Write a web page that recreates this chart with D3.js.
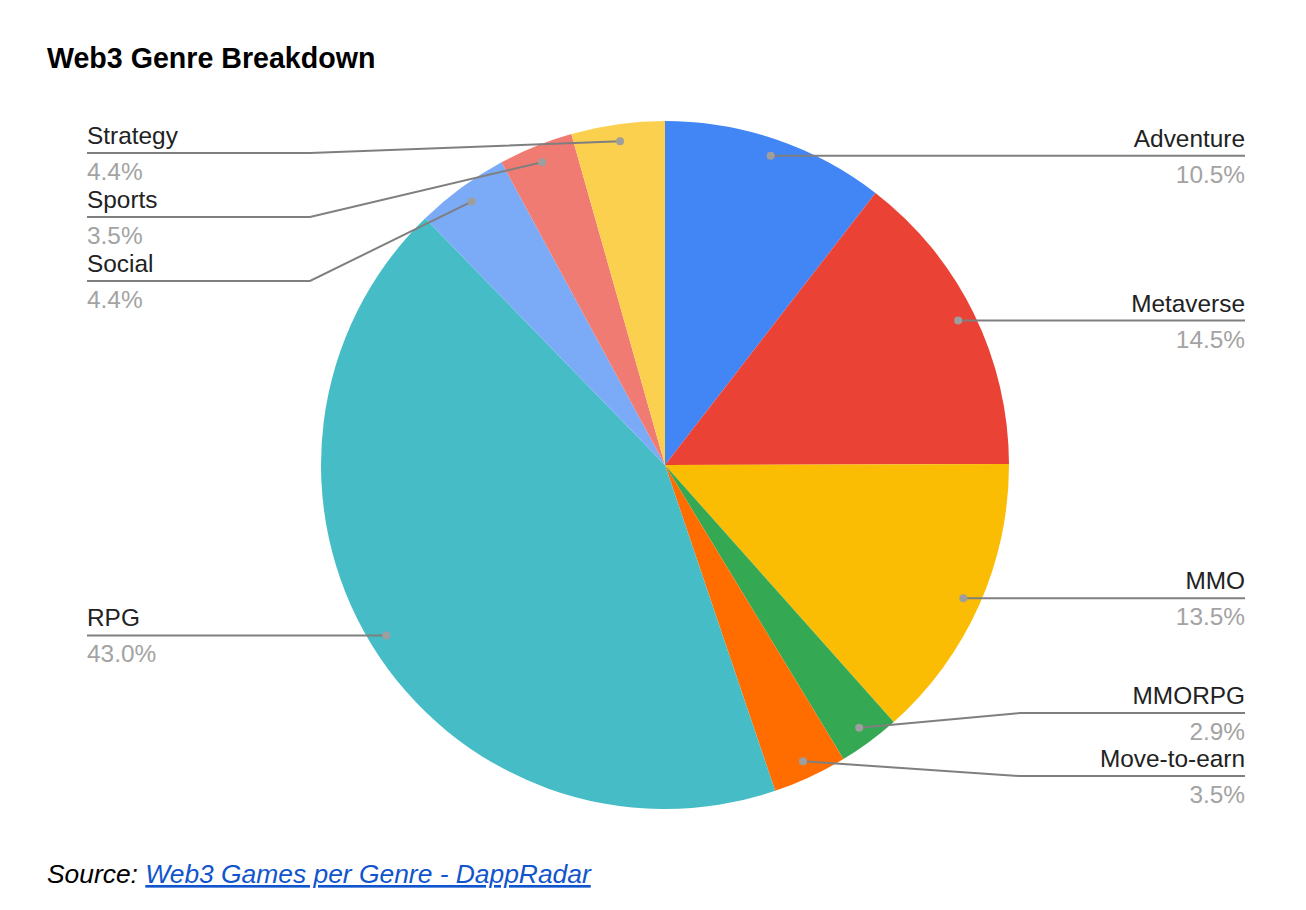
<!DOCTYPE html>
<html>
<head>
<meta charset="utf-8">
<script src="https://cdn.jsdelivr.net/npm/d3@7"></script>
<style>
  html, body { margin: 0; padding: 0; background: #fff; }
  svg { display: block; }
</style>
</head>
<body>
<svg id="chart" width="1306" height="910"></svg>
<script>
const categories = ["Adventure", "Metaverse", "MMO", "MMORPG", "Move-to-earn", "RPG", "Social", "Sports", "Strategy"];
const values = [10.5, 14.5, 13.5, 2.9, 3.5, 43.0, 4.4, 3.5, 4.4];
const colors = ["#4285F4", "#EA4335", "#FBBC04", "#34A853", "#FF6D01", "#46BDC6", "#7BAAF7", "#F07B72", "#FCD04F"];
const title = "Web3 Genre Breakdown";
const sourcePrefix = "Source: ";
const sourceLink = "Web3 Games per Genre - DappRadar";

const svg = d3.select("#chart");
const W = 1306, H = 910;
const cx = 665, cy = 465, R = 344;
const dotR = R * 0.95;
const font = "'Liberation Sans', Arial, Helvetica, sans-serif";

svg.append("rect").attr("width", W).attr("height", H).attr("fill", "#fff");

svg.append("text")
  .attr("x", 47).attr("y", 68)
  .attr("font-family", font).attr("font-size", 28.6).attr("font-weight", "bold")
  .attr("fill", "#000").text(title);

const data = categories.map((c, i) => ({ name: c, value: values[i], color: colors[i] }));
const pie = d3.pie().sort(null).value(d => d.value).startAngle(0).endAngle(2 * Math.PI);
const arcs = pie(data);
const arc = d3.arc().innerRadius(0).outerRadius(R);

const g = svg.append("g").attr("transform", `translate(${cx},${cy})`);
g.selectAll("path.slice").data(arcs).enter().append("path")
  .attr("class", "slice")
  .attr("d", arc)
  .attr("fill", d => d.data.color);

// Label layout
const items = arcs.map(a => {
  const m = (a.startAngle + a.endAngle) / 2;
  const dx = cx + dotR * Math.sin(m);
  const dy = cy - dotR * Math.cos(m);
  return { a, name: a.data.name, value: a.data.value, m, dx, dy, side: m > Math.PI ? "left" : "right", y: dy };
});

function layout(list, gap, minY, maxY) {
  list.sort((p, q) => p.dy - q.dy);
  let clusters = list.map(d => ({ items: [d] }));
  const place = c => {
    const n = c.items.length;
    const mean = d3.mean(c.items, d => d.dy);
    let top = mean - (n - 1) * gap / 2;
    top = Math.max(minY, Math.min(maxY - (n - 1) * gap, top));
    c.top = top; c.bottom = top + (n - 1) * gap;
  };
  clusters.forEach(place);
  let merged = true;
  while (merged) {
    merged = false;
    for (let i = 1; i < clusters.length; i++) {
      if (clusters[i].top - clusters[i - 1].bottom < gap) {
        const c = { items: clusters[i - 1].items.concat(clusters[i].items) };
        place(c);
        clusters.splice(i - 1, 2, c);
        merged = true;
        break;
      }
    }
  }
  clusters.forEach(c => c.items.forEach((d, k) => { d.y = c.top + k * gap; }));
}
layout(items.filter(d => d.side === "left"), 64, 153, 800);
layout(items.filter(d => d.side === "right"), 63, 153, 800);

const leftX = 87, rightX = 1245, leftElbow = 310, rightElbow = 1020;
const lineColor = "#7f7f7f";

items.forEach(d => {
  const straight = Math.abs(d.y - d.dy) < 2;
  let pts;
  if (d.side === "left") {
    pts = straight ? [[d.dx, d.y], [leftX, d.y]] : [[d.dx, d.dy], [leftElbow, d.y], [leftX, d.y]];
  } else {
    pts = straight ? [[d.dx, d.y], [rightX, d.y]] : [[d.dx, d.dy], [rightElbow, d.y], [rightX, d.y]];
  }
  svg.append("path")
    .attr("d", d3.line()(pts))
    .attr("fill", "none").attr("stroke", lineColor).attr("stroke-width", 2);
  svg.append("circle")
    .attr("cx", d.dx).attr("cy", straight ? d.y : d.dy).attr("r", 4)
    .attr("fill", "#9e9e9e");
  const tx = d.side === "left" ? leftX : rightX;
  const anchor = d.side === "left" ? "start" : "end";
  svg.append("text")
    .attr("x", tx).attr("y", d.y - 9)
    .attr("text-anchor", anchor)
    .attr("font-family", font).attr("font-size", 24.4)
    .attr("fill", "#222").text(d.name);
  svg.append("text")
    .attr("x", tx).attr("y", d.y + 27)
    .attr("text-anchor", anchor)
    .attr("font-family", font).attr("font-size", 24.4)
    .attr("fill", "#a3a3a3").text(d3.format(".1f")(d.value) + "%");
});

// Source line
const src = svg.append("text")
  .attr("x", 47).attr("y", 883)
  .attr("font-family", font).attr("font-size", 26.4).attr("font-style", "italic")
  .attr("fill", "#000");
src.append("tspan").text(sourcePrefix);
src.append("tspan").attr("fill", "#1155cc").attr("text-decoration", "underline").text(sourceLink);
</script>
</body>
</html>
